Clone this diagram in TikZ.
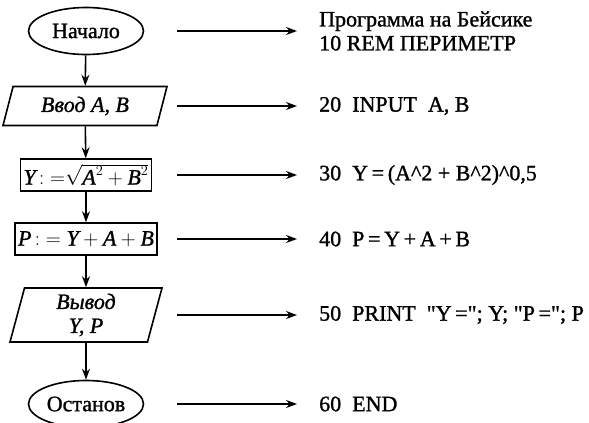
\documentclass[tikz,border=0pt]{standalone}
\usepackage{fontspec}
\setmainfont{Liberation Serif}[FakeBold=1.2]
\usetikzlibrary{shapes.geometric,arrows.meta}

\begin{document}
\begin{tikzpicture}[x=1pt, y=-1pt,
    every node/.style={font=\fontsize{22}{24}\selectfont},
    term/.style={draw, ellipse, line width=1.6pt, minimum width=115pt, minimum height=47pt, inner sep=0pt},
    io/.style={draw, trapezium, trapezium stretches body, line width=1.6pt, inner sep=1pt, align=center},
    proc/.style={draw, rectangle, line width=1.6pt, inner sep=3pt, minimum height=32pt},
    flow/.style={line width=1.6pt, -{Stealth[length=11pt, width=8pt]}},
    code/.style={anchor=west, inner sep=0pt, align=left}]
                \useasboundingbox (0,0) rectangle (589,423);

                % Draw flowchart blocks
                \node[term] (start) at (86,31) {Начало};
                \node[io, trapezium left angle=64, trapezium right angle=116, minimum width=164pt, minimum height=39pt] (input) at (85,106) {\textit{Ввод A, B}};
                \node[proc] (calcY) at (86,175) {$\textit{Y}\,{:}\;{=}\sqrt{\textit{A}^2+\textit{B}^2}$};
                \node[proc] (calcP) at (86,239) {$\textit{P}\,{:}\;{=}\;\textit{Y}+\textit{A}+\textit{B}$};
                \node[io, trapezium left angle=72, trapezium right angle=108, minimum width=152pt, minimum height=54pt] (output) at (86,315) {\textit{Вывод}\\\textit{Y, P}};
                \node[term] (stop) at (86,404) {Останов};

                % Draw flow arrows
                \draw[flow] (start) -- (input);
                \draw[flow] (input) -- (calcY);
                \draw[flow] (calcY) -- (calcP);
                \draw[flow] (calcP) -- (output);
                \draw[flow] (output) -- (stop);

                % Draw BASIC program lines
                \node[code] (t1) at (319,31) {Программа на Бейсике\\10 REM ПЕРИМЕТР};
                \node[code] (t2) at (319,106) {20\ \ INPUT\ \ A, B};
                \node[code] (t3) at (319,175) {30\ \ Y\,=\,(A\textasciicircum 2 + B\textasciicircum 2)\textasciicircum 0,5};
                \node[code] (t4) at (319,239) {40\ \ P\,=\,Y\,+\,A\,+\,B};
                \node[code] (t5) at (319,315) {50\ \ PRINT\ \ \textquotedbl Y\,=\textquotedbl; Y; \textquotedbl P\,=\textquotedbl; P};
                \node[code] (t6) at (319,404) {60\ \ END};

                % Draw arrows from blocks to program lines
                \coordinate (s1) at (177,31);
                \coordinate (s2) at (177,106);
                \coordinate (s3) at (177,175);
                \coordinate (s4) at (177,239);
                \coordinate (s5) at (177,315);
                \coordinate (s6) at (177,404);
                \draw[flow, shorten >=22pt] (s1) -- (t1.west);
                \draw[flow, shorten >=22pt] (s2) -- (t2.west);
                \draw[flow, shorten >=22pt] (s3) -- (t3.west);
                \draw[flow, shorten >=22pt] (s4) -- (t4.west);
                \draw[flow, shorten >=22pt] (s5) -- (t5.west);
                \draw[flow, shorten >=22pt] (s6) -- (t6.west);
\end{tikzpicture}
\end{document}
